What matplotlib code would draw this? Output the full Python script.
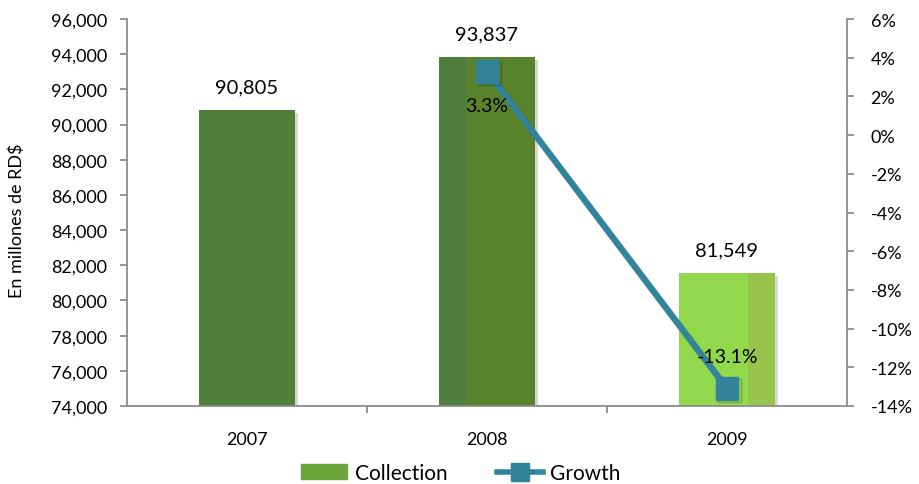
import matplotlib
matplotlib.use('Agg')
import matplotlib.pyplot as plt
import matplotlib.patheffects as pe
from matplotlib.lines import Line2D
from matplotlib.patches import Patch
from matplotlib.ticker import FuncFormatter, FixedLocator

# data
years = ['2007', '2008', '2009']
collection = [90805, 93837, 81549]
growth_years = ['2008', '2009']
growth = [3.3, -13.1]

plt.rcParams['font.family'] = ['Lato', 'DejaVu Sans']
plt.rcParams['font.size'] = 13

bar_colors = ['#507f3a', '#58832c', '#92d84c']
axis_grey = '#8c8c8c'
line_color = '#31849b'

fig = plt.figure(figsize=(9.2, 4.85), dpi=100)
ax = fig.add_axes([127 / 920, 78 / 485, 720 / 920, 387 / 485])

shadow = [pe.SimplePatchShadow(offset=(2, -2), alpha=0.18), pe.Normal()]

x = list(range(len(years)))
bw = 0.4
bars = ax.bar(x, collection, width=bw, color=bar_colors, zorder=2)
for b in bars:
    b.set_path_effects(shadow)
# shaded strips on the 2008 and 2009 bars
strip = bw * 27 / 97
ax.bar(x[1] - bw / 2 + strip / 2, collection[1], width=strip, color='#4f7d3e', zorder=2)
ax.bar(x[2] + bw / 2 - strip / 2, collection[2], width=strip, color='#96c44c', zorder=2)

for xi, v in zip(x, collection):
    ax.text(xi, v + 850, f'{v:,}', ha='center', va='bottom', fontsize=14.5)

ax.set_xlim(-0.5, 2.5)
ax.set_ylim(74000, 96000)
ax.set_yticks(range(74000, 96001, 2000))
ax.yaxis.set_major_formatter(FuncFormatter(lambda v, p: f'{int(v):,}'))
ax.set_xticks(x)
ax.set_xticklabels(years)
ax.xaxis.set_minor_locator(FixedLocator([0.5, 1.5]))
ax.set_ylabel('En millones de RD$', fontsize=13)
ax.yaxis.set_label_coords(-0.142, 0.48)

for s in ['top', 'right']:
    ax.spines[s].set_visible(False)
for s in ['left', 'bottom']:
    ax.spines[s].set_color(axis_grey)
    ax.spines[s].set_linewidth(1.3)
ax.tick_params(axis='y', colors=axis_grey, labelcolor='black', length=5, width=1.3,
               direction='out', labelsize=13, pad=9)
ax.tick_params(axis='x', which='major', length=0, pad=18, labelsize=13)
ax.tick_params(axis='x', which='minor', length=5, width=1.3, colors=axis_grey, direction='out')

ax2 = ax.twinx()
ax2.set_ylim(-14, 6)
ax2.set_yticks(range(-14, 7, 2))
ax2.yaxis.set_major_formatter(FuncFormatter(lambda v, p: f'{int(v)}%'))
for s in ['top', 'left', 'bottom']:
    ax2.spines[s].set_visible(False)
ax2.spines['right'].set_color(axis_grey)
ax2.spines['right'].set_linewidth(1.3)
ax2.tick_params(axis='y', colors=axis_grey, labelcolor='black', length=5, width=1.3,
                direction='out', labelsize=13, pad=12)

gx = [years.index(y) for y in growth_years]
ax2.plot(gx, growth, color=line_color, lw=4.5, marker='s', markersize=16.5, zorder=3,
         path_effects=[pe.SimpleLineShadow(offset=(1.5, -1.5), alpha=0.2), pe.Normal()])
ax2.text(gx[0], growth[0] - 1.78, f'{growth[0]}%', ha='center', va='center', fontsize=14)
ax2.text(gx[1], growth[1] + 1.65, f'{growth[1]}%', ha='center', va='center', fontsize=14)

handles = [Patch(color='#6aa63c'),
           Line2D([0], [0], color=line_color, lw=4, marker='s', markersize=13)]
fig.legend(handles, ['Collection', 'Growth'], loc='center', bbox_to_anchor=(461 / 920, 1 - 474 / 485),
           ncol=2, frameon=False, fontsize=15, handlelength=2.2, columnspacing=2.4,
           handletextpad=0.35, borderpad=0)

fig.savefig('out.png', dpi=100)
